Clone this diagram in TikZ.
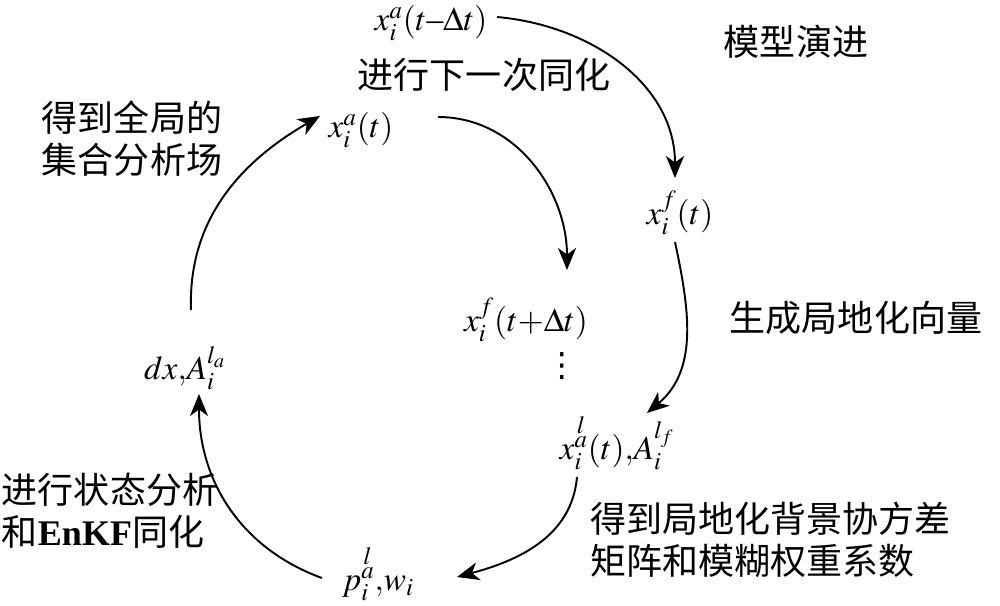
\documentclass[tikz,border=0pt]{standalone}
\usepackage{mathptmx}
\usepackage{amsmath}
\usepackage{fontspec}
\setmainfont{Liberation Serif}
\newfontfamily\zhfont{Noto Sans CJK SC}
\newfontfamily\dotsfont{DejaVu Sans}
\usetikzlibrary{positioning,arrows.meta}
\newcommand\lovera{\substack{l\\[-3pt]a}}

\begin{document}
\begin{tikzpicture}[x=0.2mm,y=-0.2mm,
zh/.style={font=\zhfont\fontsize{20.5}{23.9}\selectfont,align=left,inner sep=0pt},
var/.style={font=\fontsize{19}{23}\selectfont,inner sep=1pt},
cyc/.style={line width=1.1pt,-{Stealth[length=4.4mm,width=3.6mm,inset=1.3mm]}}]
\useasboundingbox (0,0) rectangle (1000,605);
% states of the cycle
\node[var] (xprev) at (431,23) {$x_i^a(t\mbox{–}\Delta t)$};
\node[var] (xa) at (361,130) {$x_i^a(t)$};
\node[var] (xf) at (680,213) {$x_i^f(t)$};
\node[var] (xfn) at (526,320) {$x_i^f(t{+}\Delta t)$};
\node[var,font=\dotsfont\fontsize{19}{23}\selectfont] (dots) at (562,366) {⋮};
\node[var] (xl) at (617,443) {$x_i^{\lovera}(t){,}A_i^{l_f}$};
\node[var] (pw) at (378,574) {$p_i^{\lovera}{,}w_i$};
\node[var] (dx) at (185,368) {$dx{,}A_i^{l_a}$};
% step labels
\node[zh] (next) at (484,75) {进行下一次同化};
\node[zh] (model) at (796,42) {模型演进};
\node[zh] (glob) at (132,139) {得到全局的\\集合分析场};
\node[zh] (vec) at (856,318) {生成局地化向量};
\node[zh,anchor=west] (cov) at (590,540) {得到局地化背景协方差\\矩阵和模糊权重系数};
\node[zh] (enkf) at (110,511) {进行状态分析\\和\textbf{\rmfamily EnKF}同化};
% arrows
\draw[cyc] ([xshift=13.2mm,yshift=1.2mm]xprev.center) to[out=-5,in=90] ([xshift=-1mm,yshift=7mm]xf.center);
\draw[cyc] ([xshift=15.4mm,yshift=2.6mm]xa.center) to[out=0,in=90] ([xshift=8.2mm,yshift=10mm]xfn.center);
\draw[cyc] ([xshift=-1mm,yshift=-5.8mm]xf.center) to[out=-78,in=40] ([xshift=6mm,yshift=6mm]xl.center);
\draw[cyc] ([xshift=-8mm,yshift=-6.8mm]xl.center) to[out=-95,in=15] ([xshift=15.8mm,yshift=-0.6mm]pw.center);
\draw[cyc] ([xshift=-11.2mm,yshift=-0.8mm]pw.center) to[out=160,in=-90] ([xshift=2.8mm,yshift=-5.2mm]dx.center);
\draw[cyc] ([xshift=1.2mm,yshift=11.6mm]dx.center) to[out=92,in=-150] ([xshift=-8.2mm,yshift=2.8mm]xa.center);
\end{tikzpicture}
\end{document}
